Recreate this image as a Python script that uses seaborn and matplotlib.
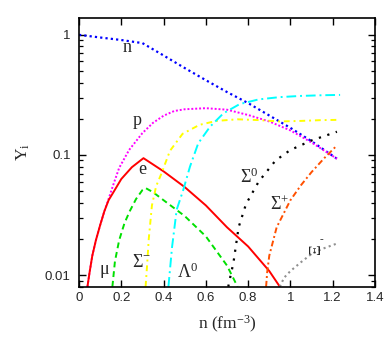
import matplotlib
matplotlib.use('Agg')
import matplotlib.pyplot as plt
import seaborn as sns
import numpy as np
from matplotlib.ticker import FixedLocator, FixedFormatter, LogLocator, NullFormatter

# ---- data ----
n_x = [0.0, 0.1, 0.2, 0.3, 0.4, 0.5, 0.6, 0.7, 0.8, 0.9, 1.0, 1.1, 1.22]
n_y = [1.0, 0.95, 0.905, 0.853, 0.673, 0.529, 0.419, 0.334, 0.27, 0.213, 0.168, 0.13, 0.093]

p_x = [0.04, 0.05, 0.063, 0.08, 0.1, 0.12, 0.14, 0.16, 0.19, 0.237, 0.3, 0.35, 0.4, 0.45, 0.5, 0.6, 0.7, 0.8, 0.9, 1.0, 1.1, 1.22]
p_y = [0.008, 0.0105, 0.0145, 0.0195, 0.026, 0.034, 0.043, 0.055, 0.078, 0.11, 0.152, 0.185, 0.212, 0.232, 0.24, 0.245, 0.238, 0.215, 0.19, 0.16, 0.127, 0.093]

e_x = [0.04, 0.05, 0.063, 0.08, 0.1, 0.12, 0.14, 0.16, 0.2, 0.25, 0.305, 0.4, 0.5, 0.6, 0.7, 0.8, 0.9, 0.95]
e_y = [0.008, 0.0105, 0.0145, 0.0195, 0.026, 0.034, 0.042, 0.048, 0.063, 0.079, 0.094, 0.073, 0.054, 0.038, 0.025, 0.0173, 0.0108, 0.008]

mu_x = [0.158, 0.17, 0.19, 0.215, 0.24, 0.27, 0.3, 0.315, 0.35, 0.4, 0.5, 0.6, 0.7, 0.75]
mu_y = [0.008, 0.013, 0.0195, 0.027, 0.034, 0.043, 0.051, 0.053, 0.049, 0.042, 0.031, 0.021, 0.012, 0.008]

sm_x = [0.315, 0.322, 0.33, 0.345, 0.365, 0.39, 0.43, 0.49, 0.57, 0.65, 0.75, 0.85, 0.95, 1.05, 1.15, 1.235]
sm_y = [0.008, 0.012, 0.02, 0.038, 0.055, 0.07, 0.108, 0.15, 0.178, 0.192, 0.198, 0.195, 0.19, 0.192, 0.195, 0.196]

lam_x = [0.423, 0.44, 0.462, 0.493, 0.525, 0.564, 0.62, 0.683, 0.76, 0.85, 0.95, 1.05, 1.15, 1.235]
lam_y = [0.008, 0.017, 0.035, 0.051, 0.08, 0.125, 0.172, 0.222, 0.265, 0.29, 0.303, 0.31, 0.314, 0.316]

s0_x = [0.706, 0.72, 0.73, 0.755, 0.79, 0.85, 0.93, 1.0, 1.1, 1.22]
s0_y = [0.008, 0.0105, 0.0125, 0.025, 0.039, 0.06, 0.09, 0.11, 0.132, 0.156]

sp_x = [0.885, 0.89, 0.9, 0.935, 1.0, 1.05, 1.1, 1.16, 1.22]
sp_y = [0.008, 0.0105, 0.0145, 0.025, 0.042, 0.056, 0.072, 0.094, 0.12]

xi_x = [0.95, 0.97, 1.0, 1.05, 1.1, 1.15, 1.22]
xi_y = [0.008, 0.0095, 0.0108, 0.0128, 0.015, 0.0165, 0.0183]

x_ticks = [0, 0.2, 0.4, 0.6, 0.8, 1.0, 1.2, 1.4]
x_ticklabels = ['0', '0.2', '0.4', '0.6', '0.8', '1', '1.2', '1.4']
y_ticks = [0.01, 0.1, 1]
y_ticklabels = ['0.01', '0.1', '1']

# ---- style ----
sns.set_style('ticks')
plt.rcParams['font.family'] = ['Liberation Serif', 'DejaVu Serif']
plt.rcParams['mathtext.fontset'] = 'custom'
plt.rcParams['mathtext.rm'] = 'Liberation Serif'
plt.rcParams['mathtext.it'] = 'Liberation Serif:italic'

fig = plt.figure(figsize=(3.92, 3.49), dpi=100)
ax = fig.add_axes([0.2015, 0.1785, 0.7551, 0.7699])
ax.set_yscale('log')

series = [
    (n_x, n_y, '#0000ff', (0, (1.0, 1.4)), 1.6),
    (p_x, p_y, '#ff00ff', (0, (1.0, 1.0)), 1.4),
    (e_x, e_y, '#ff0000', '-', 1.4),
    (mu_x, mu_y, '#00e000', (0, (3.0, 2.0)), 1.4),
    (sm_x, sm_y, '#ffff00', (0, (3.0, 2.0, 1.0, 2.0)), 1.4),
    (lam_x, lam_y, '#00ffff', (0, (5.0, 2.0, 1.0, 2.0)), 1.4),
    (s0_x, s0_y, '#000000', (0, (1.0, 3.0)), 1.6),
    (sp_x, sp_y, '#ff5000', (0, (3.0, 1.5, 1.0, 1.5)), 1.4),
    (xi_x, xi_y, '#909090', (0, (1.0, 1.6)), 1.5),
]
for xs, ys, c, ls, lw in series:
    sns.lineplot(x=xs, y=ys, ax=ax, color=c, linestyle=ls, lw=lw,
                 sort=False, estimator=None, legend=False)

ax.set_xlim(0, 1.4)
ax.set_ylim(0.008, 1.38)

ax.xaxis.set_major_locator(FixedLocator(x_ticks))
ax.xaxis.set_major_formatter(FixedFormatter(x_ticklabels))
ax.yaxis.set_major_locator(FixedLocator(y_ticks))
ax.yaxis.set_major_formatter(FixedFormatter(y_ticklabels))
ax.yaxis.set_minor_locator(LogLocator(base=10, subs=np.arange(2, 10)))
ax.yaxis.set_minor_formatter(NullFormatter())
ax.xaxis.set_minor_locator(FixedLocator([]))

ax.tick_params(which='both', direction='in', top=True, right=True, color='black')
ax.tick_params(which='major', length=5, width=1.0)
ax.tick_params(which='minor', length=3, width=0.9)
ax.tick_params(axis='x', which='major', pad=4)
ax.tick_params(axis='y', which='major', pad=6)
for lab in ax.get_xticklabels() + ax.get_yticklabels():
    lab.set_fontfamily('Liberation Sans')
    lab.set_fontsize(9.5)
for sp in ax.spines.values():
    sp.set_linewidth(1.2)
    sp.set_color('black')

ax.set_xlabel('n (fm$^{-3}$)', fontsize=12.5, labelpad=7)
ax.set_ylabel('Y$_\\mathrm{i}$', fontsize=12.5, labelpad=9)

fs = 13
ax.text(0.227, 0.78, 'n', fontsize=fs, ha='center', va='center')
ax.text(0.274, 0.192, 'p', fontsize=fs, ha='center', va='center')
ax.text(0.298, 0.075, 'e', fontsize=fs, ha='center', va='center')
ax.text(0.118, 0.0112, 'μ', fontsize=fs, ha='center', va='center')
ax.text(0.249, 0.0117, 'Σ$^{\\mathrm{-}}$', fontsize=fs, ha='left', va='baseline')
ax.text(0.465, 0.0095, 'Λ$^{0}$', fontsize=fs, ha='left', va='baseline')
ax.text(0.762, 0.058, 'Σ$^{0}$', fontsize=fs, ha='left', va='baseline')
ax.text(0.903, 0.0348, 'Σ$^{+}$', fontsize=fs, ha='left', va='baseline')
ax.text(1.123, 0.0166, 'Ξ', fontsize=fs - 1, ha='center', va='center', rotation=90)
ax.text(1.148, 0.0199, '-', fontsize=8, ha='center', va='center')

fig.savefig('out.png', dpi=100)
